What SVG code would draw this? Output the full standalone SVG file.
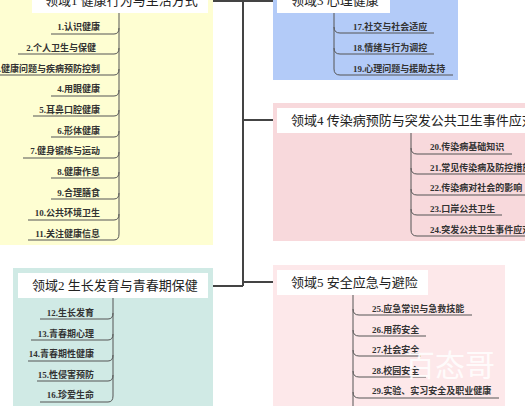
<svg xmlns="http://www.w3.org/2000/svg" width="525" height="406" viewBox="0 0 525 406">
<style>
.title{font-family:'Liberation Serif','Noto Sans CJK SC',serif;font-size:13px;fill:#222;}
.item{font-family:'Liberation Serif','Noto Sans CJK SC',serif;font-size:9px;font-weight:bold;fill:#333;}
.br{fill:none;stroke:#555;stroke-width:1;}
.conn{fill:none;stroke:#444;stroke-width:2;}
.tbox{fill:#fff;}
</style>
<rect width="525" height="406" fill="#fff"/>

<g id="connectors">
<path class="conn" d="M208,1 H277 M243,1 V286 M243,120 H277 M208,286 H243 M243,282 H277"/>
</g>

<g id="domain1">
<rect x="0" y="0" width="213" height="245" fill="#fefed2"/>
<rect class="tbox" x="32" y="0" width="176" height="13"/>
<text class="title" x="45" y="5">领域1 健康行为与生活方式</text>
<path class="br" d="M119,13 V234
M51,34 H114 Q119,34 119,28
M18,54 H114 Q119,54 119,48
M0,75 H114 Q119,75 119,69
M51,96 H114 Q119,96 119,90
M33,116 H114 Q119,116 119,110
M51,137 H114 Q119,137 119,131
M23,158 H114 Q119,158 119,152
M51,178 H114 Q119,178 119,172
M51,199 H114 Q119,199 119,193
M28,220 H114 Q119,220 119,214
M28,240 H114 Q119,240 119,234"/>
<g class="item" text-anchor="end">
<text x="100" y="30">1.认识健康</text>
<text x="96" y="51">2.个人卫生与保健</text>
<text x="100" y="72">3.健康问题与疾病预防控制</text>
<text x="100" y="92">4.用眼健康</text>
<text x="100" y="113">5.耳鼻口腔健康</text>
<text x="100" y="134">6.形体健康</text>
<text x="100" y="154">7.健身锻炼与运动</text>
<text x="100" y="175">8.健康作息</text>
<text x="100" y="196">9.合理膳食</text>
<text x="100" y="216">10.公共环境卫生</text>
<text x="100" y="237">11.关注健康信息</text>
</g>
</g>

<g id="domain2">
<rect x="13" y="268" width="200" height="138" fill="#d0eae5"/>
<rect class="tbox" x="18" y="273" width="190" height="25"/>
<text class="title" x="32" y="290">领域2 生长发育与青春期保健</text>
<path class="br" d="M113,298 V396
M40,319 H108 Q113,319 113,313
M31,340 H108 Q113,340 113,334
M28,361 H108 Q113,361 113,355
M37,381 H108 Q113,381 113,375
M40,402 H108 Q113,402 113,396"/>
<g class="item" text-anchor="end">
<text x="94" y="316">12.生长发育</text>
<text x="94" y="337">13.青春期心理</text>
<text x="94" y="357">14.青春期性健康</text>
<text x="94" y="378">15.性侵害预防</text>
<text x="94" y="398">16.珍爱生命</text>
</g>
</g>

<g id="domain3">
<rect x="273" y="0" width="185" height="80" fill="#b3cbf8"/>
<rect class="tbox" x="277" y="0" width="113" height="13"/>
<text class="title" x="291" y="5">领域3 心理健康</text>
<path class="br" d="M334,13 V69
M334,27 Q334,33 340,33 H434
M334,48 Q334,54 340,54 H434
M334,69 Q334,75 340,75 H453"/>
<g class="item">
<text x="353" y="30">17.社交与社会适应</text>
<text x="353" y="51">18.情绪与行为调控</text>
<text x="353" y="72">19.心理问题与援助支持</text>
</g>
</g>

<g id="domain4">
<rect x="273" y="103" width="252" height="138" fill="#f8d9dc"/>
<rect class="tbox" x="277" y="108" width="248" height="25"/>
<text class="title" x="291" y="125">领域4 传染病预防与突发公共卫生事件应对</text>
<path class="br" d="M411,133 V230
M411,148 Q411,154 417,154 H512
M411,168 Q411,174 417,174 H525
M411,189 Q411,195 417,195 H525
M411,209 Q411,215 417,215 H502
M411,230 Q411,236 417,236 H525"/>
<g class="item">
<text x="430" y="150">20.传染病基础知识</text>
<text x="430" y="171">21.常见传染病及防控措施</text>
<text x="430" y="191">22.传染病对社会的影响</text>
<text x="430" y="212">23.口岸公共卫生</text>
<text x="430" y="233">24.突发公共卫生事件应对</text>
</g>
</g>

<g id="domain5">
<rect x="273" y="265" width="232" height="141" fill="#fde8ea"/>
<rect class="tbox" x="277" y="270" width="151" height="25"/>
<text class="title" x="291" y="287">领域5 安全应急与避险</text>
<path class="br" d="M353,295 V406
M353,309 Q353,315 359,315 H472
M353,330 Q353,336 359,336 H426
M353,350 Q353,356 359,356 H421
M353,371 Q353,377 359,377 H426
M353,392 Q353,398 359,398 H499"/>
<g class="item">
<text x="372" y="312">25.应急常识与急救技能</text>
<text x="372" y="333">26.用药安全</text>
<text x="372" y="353">27.社会安全</text>
<text x="372" y="374">28.校园安全</text>
<text x="372" y="394">29.实验、实习安全及职业健康</text>
</g>
</g>

<text x="405" y="376" font-family="'Noto Sans CJK SC',sans-serif" font-size="30" fill="#fff" fill-opacity="0.85">百态哥</text>
</svg>
